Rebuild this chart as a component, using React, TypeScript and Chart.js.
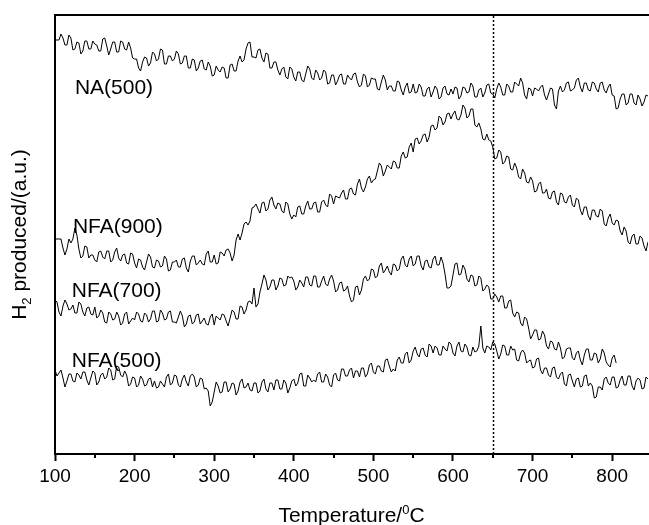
import React, { useEffect, useRef } from "react";
import { Chart, registerables } from "chart.js";

Chart.register(...registerables);

// Temperature grid (°C)
const temperatures = [
  100, 102.5, 105, 107.5, 110, 112.5, 115, 117.5, 120, 122.5, 125, 127.5, 130, 132.5, 135, 137.5, 140, 142.5, 145, 147.5,
  150, 152.5, 155, 157.5, 160, 162.5, 165, 167.5, 170, 172.5, 175, 177.5, 180, 182.5, 185, 187.5, 190, 192.5, 195, 197.5,
  200, 202.5, 205, 207.5, 210, 212.5, 215, 217.5, 220, 222.5, 225, 227.5, 230, 232.5, 235, 237.5, 240, 242.5, 245, 247.5,
  250, 252.5, 255, 257.5, 260, 262.5, 265, 267.5, 270, 272.5, 275, 277.5, 280, 282.5, 285, 287.5, 290, 292.5, 295, 297.5,
  300, 302.5, 305, 307.5, 310, 312.5, 315, 317.5, 320, 322.5, 325, 327.5, 330, 332.5, 335, 337.5, 340, 342.5, 345, 347.5,
  350, 352.5, 355, 357.5, 360, 362.5, 365, 367.5, 370, 372.5, 375, 377.5, 380, 382.5, 385, 387.5, 390, 392.5, 395, 397.5,
  400, 402.5, 405, 407.5, 410, 412.5, 415, 417.5, 420, 422.5, 425, 427.5, 430, 432.5, 435, 437.5, 440, 442.5, 445, 447.5,
  450, 452.5, 455, 457.5, 460, 462.5, 465, 467.5, 470, 472.5, 475, 477.5, 480, 482.5, 485, 487.5, 490, 492.5, 495, 497.5,
  500, 502.5, 505, 507.5, 510, 512.5, 515, 517.5, 520, 522.5, 525, 527.5, 530, 532.5, 535, 537.5, 540, 542.5, 545, 547.5,
  550, 552.5, 555, 557.5, 560, 562.5, 565, 567.5, 570, 572.5, 575, 577.5, 580, 582.5, 585, 587.5, 590, 592.5, 595, 597.5,
  600, 602.5, 605, 607.5, 610, 612.5, 615, 617.5, 620, 622.5, 625, 627.5, 630, 632.5, 635, 637.5, 640, 642.5, 645, 647.5,
  650, 652.5, 655, 657.5, 660, 662.5, 665, 667.5, 670, 672.5, 675, 677.5, 680, 682.5, 685, 687.5, 690, 692.5, 695, 697.5,
  700, 702.5, 705, 707.5, 710, 712.5, 715, 717.5, 720, 722.5, 725, 727.5, 730, 732.5, 735, 737.5, 740, 742.5, 745, 747.5,
  750, 752.5, 755, 757.5, 760, 762.5, 765, 767.5, 770, 772.5, 775, 777.5, 780, 782.5, 785, 787.5, 790, 792.5, 795, 797.5,
  800, 802.5, 805, 807.5, 810, 812.5, 815, 817.5, 820, 822.5, 825, 827.5, 830, 832.5, 835, 837.5, 840, 842.5, 845,
];

// H2 produced (a.u.), curves offset as in the figure
const naValues = [
  414, 414, 414, 420, 416, 409, 409, 419, 416, 404,
  405, 412, 411, 400, 403, 413, 413, 405, 405, 413,
  410, 409, 403, 403, 415, 416, 408, 399, 405, 412,
  412, 402, 402, 413, 412, 405, 404, 412, 406, 396,
  395, 395, 386, 383, 392, 397, 396, 388, 391, 402,
  400, 393, 395, 405, 404, 390, 390, 398, 398, 393,
  395, 403, 400, 390, 391, 398, 398, 386, 386, 395,
  394, 383, 386, 393, 394, 385, 384, 392, 388, 378,
  379, 388, 384, 382, 387, 386, 376, 376, 389, 390,
  383, 383, 393, 398, 392, 394, 405, 411, 412, 397,
  397, 396, 404, 405, 396, 392, 401, 400, 386, 386,
  392, 392, 384, 379, 385, 387, 377, 375, 387, 385,
  377, 373, 382, 382, 374, 372, 380, 388, 385, 376,
  374, 384, 381, 374, 376, 384, 382, 370, 371, 379,
  379, 369, 373, 379, 380, 370, 370, 379, 376, 374,
  380, 381, 372, 367, 369, 380, 378, 367, 369, 376,
  375, 375, 365, 364, 372, 379, 374, 364, 368, 368,
  363, 363, 373, 372, 364, 359, 367, 371, 361, 362,
  370, 361, 362, 370, 367, 358, 358, 365, 367, 357,
  362, 368, 365, 355, 357, 366, 368, 360, 359, 365,
  360, 367, 366, 355, 358, 367, 366, 361, 362, 371,
  368, 357, 357, 364, 366, 357, 361, 369, 370, 361,
  360, 356, 365, 371, 367, 359, 359, 370, 368, 362,
  362, 372, 370, 368, 376, 371, 359, 355, 366, 365,
  358, 366, 365, 363, 367, 369, 359, 354, 360, 366,
  365, 349, 345, 363, 368, 362, 364, 371, 372, 363,
  364, 366, 374, 376, 367, 362, 371, 371, 364, 363,
  372, 371, 365, 362, 371, 372, 364, 361, 367, 370,
  359, 358, 345, 346, 355, 360, 360, 349, 351, 360,
  360, 351, 349, 359, 355, 348, 352, 359, 358,
];

const nfa900Values = [
  215, 215, 215, 215, 206, 199, 205, 215, 211, 215,
  226, 219, 205, 196, 198, 208, 207, 196, 199, 199,
  194, 192, 202, 203, 197, 195, 203, 203, 192, 194,
  202, 206, 196, 193, 199, 200, 191, 190, 201, 200,
  191, 186, 195, 194, 187, 184, 192, 200, 197, 187,
  186, 194, 193, 187, 188, 198, 195, 183, 184, 192,
  192, 194, 187, 187, 195, 196, 186, 182, 193, 198,
  198, 189, 191, 194, 190, 189, 200, 203, 192, 192,
  199, 190, 191, 202, 201, 198, 204, 205, 201, 193,
  199, 214, 220, 214, 221, 230, 232, 229, 233, 246,
  247, 250, 245, 241, 251, 252, 243, 245, 254, 257,
  249, 245, 251, 250, 243, 241, 252, 250, 240, 235,
  239, 237, 247, 248, 240, 240, 248, 253, 245, 245,
  251, 252, 242, 242, 252, 254, 249, 247, 260, 258,
  250, 258, 257, 256, 261, 264, 255, 255, 265, 266,
  260, 259, 270, 275, 266, 262, 267, 275, 278, 271,
  274, 275, 283, 291, 288, 278, 283, 289, 287, 285,
  293, 292, 286, 286, 298, 302, 296, 297, 307, 311,
  302, 315, 316, 310, 313, 319, 320, 312, 317, 328,
  329, 324, 326, 338, 336, 329, 332, 340, 341, 335,
  340, 343, 335, 334, 339, 349, 346, 336, 338, 345,
  345, 329, 327, 331, 325, 315, 314, 320, 314, 313,
  307, 295, 296, 304, 302, 290, 292, 298, 297, 285,
  284, 291, 286, 277, 275, 285, 281, 272, 271, 277,
  273, 262, 263, 270, 272, 261, 261, 265, 256, 255,
  262, 263, 252, 249, 261, 260, 252, 251, 257, 259,
  249, 247, 256, 254, 244, 239, 247, 247, 238, 234,
  244, 244, 238, 237, 245, 243, 230, 228, 236, 240,
  231, 229, 234, 233, 223, 219, 227, 223, 212, 210,
  218, 220, 210, 210, 218, 216, 208, 203, 212,
];

// NFA(700) was recorded only up to ~805 °C
const nfa700Values = [
  154, 152, 142, 138, 148, 154, 150, 144, 145, 149,
  141, 141, 152, 150, 142, 138, 146, 147, 140, 139,
  147, 136, 138, 144, 141, 132, 131, 142, 140, 134,
  135, 142, 138, 129, 131, 140, 142, 130, 133, 136,
  134, 142, 140, 133, 132, 141, 139, 132, 135, 143,
  143, 132, 133, 144, 141, 134, 135, 142, 143, 132,
  132, 131, 137, 143, 138, 127, 130, 138, 139, 130,
  132, 139, 140, 130, 133, 136, 130, 129, 137, 140,
  129, 138, 136, 134, 140, 139, 133, 128, 136, 144,
  142, 135, 135, 148, 147, 140, 144, 152, 153, 150,
  166, 147, 150, 162, 170, 179, 174, 164, 167, 174,
  174, 164, 168, 176, 175, 168, 169, 178, 176, 177,
  173, 164, 167, 174, 171, 167, 177, 177, 169, 168,
  178, 178, 167, 167, 173, 178, 170, 168, 175, 179,
  173, 162, 164, 171, 172, 163, 164, 168, 158, 152,
  154, 167, 168, 159, 164, 175, 178, 173, 175, 185,
  184, 176, 178, 188, 191, 181, 184, 188, 182, 179,
  190, 189, 183, 185, 195, 198, 189, 187, 195, 198,
  188, 190, 198, 198, 188, 184, 193, 194, 187, 186,
  195, 198, 189, 189, 197, 191, 180, 166, 166, 168,
  179, 190, 191, 179, 180, 189, 185, 175, 172, 179,
  178, 168, 169, 178, 176, 163, 165, 169, 167, 155,
  155, 160, 157, 152, 158, 158, 146, 146, 153, 154,
  141, 137, 142, 141, 131, 128, 137, 135, 126, 115,
  119, 124, 124, 114, 115, 123, 119, 108, 105, 113,
  112, 105, 104, 112, 106, 95, 97, 105, 106, 106,
  96, 94, 101, 103, 94, 89, 99, 105, 105, 94,
  94, 101, 100, 91, 95, 105, 101, 92, 89, 87,
  96, 99, 91,
];

const nfa500Values = [
  84, 78, 81, 84, 76, 67, 73, 80, 80, 73,
  72, 81, 79, 75, 82, 82, 74, 69, 76, 83,
  81, 69, 72, 79, 81, 75, 77, 86, 84, 74,
  75, 88, 87, 79, 77, 83, 79, 68, 70, 77,
  76, 67, 69, 78, 75, 68, 69, 75, 76, 67,
  73, 66, 67, 73, 70, 67, 77, 80, 69, 71,
  79, 78, 69, 67, 75, 79, 72, 68, 78, 80,
  77, 67, 69, 76, 75, 65, 66, 63, 48, 52,
  62, 72, 68, 61, 62, 72, 72, 62, 65, 71,
  70, 59, 63, 72, 75, 66, 67, 71, 64, 63,
  71, 71, 61, 63, 72, 75, 65, 62, 71, 71,
  64, 74, 74, 65, 65, 74, 71, 61, 66, 73,
  75, 68, 71, 80, 81, 68, 68, 79, 76, 72,
  74, 72, 80, 82, 72, 72, 80, 77, 69, 67,
  79, 81, 74, 73, 85, 85, 78, 78, 84, 86,
  76, 83, 83, 77, 86, 86, 77, 80, 89, 91,
  82, 80, 88, 88, 83, 82, 94, 95, 88, 82,
  85, 83, 94, 97, 91, 91, 100, 102, 91, 94,
  103, 107, 100, 97, 105, 106, 99, 97, 110, 108,
  101, 108, 106, 99, 99, 108, 105, 103, 112, 110,
  101, 98, 108, 112, 103, 102, 110, 107, 99, 98,
  107, 102, 103, 108, 128, 106, 101, 108, 107, 104,
  112, 110, 103, 95, 100, 109, 108, 99, 99, 108,
  104, 105, 94, 93, 101, 104, 101, 91, 93, 94,
  86, 87, 95, 96, 84, 80, 86, 86, 79, 77,
  86, 87, 77, 75, 80, 82, 70, 68, 79, 80,
  73, 67, 75, 76, 67, 68, 78, 79, 68, 71,
  68, 56, 57, 67, 67, 64, 75, 77, 71, 69,
  77, 77, 66, 67, 74, 78, 69, 69, 78, 78,
  68, 64, 73, 76, 74, 65, 66, 77, 75,
];

const seriesNames = ["NA(500)", "NFA(900)", "NFA(700)", "NFA(500)"];
// where each series' name is written (temperature, a.u.), text baseline-left
const labelTemps = [125, 122.5, 121, 121];
const labelLevels = [360, 221, 157.5, 87.5];

const xTickValues = [100, 150, 200, 250, 300, 350, 400, 450, 500, 550, 600, 650, 700, 750, 800];
const xMin = 100;
const xMax = 845;
const yMin = 0;
const yMax = 439;
const markerTemperature = 650;

const FONT = '"Liberation Sans", Arial, Helvetica, sans-serif';

function toPoints(values: number[]) {
  return values.map((v, i) => ({ x: temperatures[i], y: v }));
}

const decorPlugin = {
  id: "decor",
  afterDraw(chart: any) {
    const { ctx, chartArea, scales } = chart;
    const xs = scales.x;
    const ys = scales.y;
    ctx.save();

    // top frame line
    ctx.strokeStyle = "#000";
    ctx.lineWidth = 2;
    ctx.beginPath();
    ctx.moveTo(chartArea.left - 1, chartArea.top);
    ctx.lineTo(chartArea.right + 1, chartArea.top);
    ctx.stroke();

    // minor ticks
    xTickValues.forEach((v) => {
      if (v % 100 !== 0) {
        const px = Math.round(xs.getPixelForValue(v));
        ctx.beginPath();
        ctx.moveTo(px, chartArea.bottom);
        ctx.lineTo(px, chartArea.bottom + 4);
        ctx.stroke();
      }
    });

    // dotted marker line
    const mx = Math.round(xs.getPixelForValue(markerTemperature)) + 0.5;
    ctx.lineWidth = 1.5;
    ctx.setLineDash([2, 2]);
    ctx.beginPath();
    ctx.moveTo(mx, chartArea.top + 1);
    ctx.lineTo(mx, chartArea.bottom - 1);
    ctx.stroke();
    ctx.setLineDash([]);

    // series names
    ctx.fillStyle = "#000";
    ctx.font = `21px ${FONT}`;
    ctx.textAlign = "left";
    ctx.textBaseline = "alphabetic";
    seriesNames.forEach((name, i) => {
      ctx.fillText(name, xs.getPixelForValue(labelTemps[i]), ys.getPixelForValue(labelLevels[i]));
    });

    // x title with superscript
    const big = `21px ${FONT}`;
    const small = `13px ${FONT}`;
    ctx.font = big;
    const w1 = ctx.measureText("Temperature/").width;
    const w3 = ctx.measureText("C").width;
    ctx.font = small;
    const w2 = ctx.measureText("0").width;
    const total = w1 + w2 + w3;
    const cx = (chartArea.left + chartArea.right) / 2;
    const x0 = cx - total / 2;
    const by = 521.5;
    ctx.font = big;
    ctx.fillText("Temperature/", x0, by);
    ctx.font = small;
    ctx.fillText("0", x0 + w1, by - 8);
    ctx.font = big;
    ctx.fillText("C", x0 + w1 + w2, by);

    // y title with subscript (rotated)
    ctx.translate(26, (chartArea.top + chartArea.bottom) / 2);
    ctx.rotate(-Math.PI / 2);
    ctx.font = big;
    const a1 = ctx.measureText("H").width;
    const a3 = ctx.measureText(" produced/(a.u.)").width;
    ctx.font = small;
    const a2 = ctx.measureText("2").width;
    const s = -(a1 + a2 + a3) / 2;
    ctx.font = big;
    ctx.fillText("H", s, 0);
    ctx.font = small;
    ctx.fillText("2", s + a1, 5);
    ctx.font = big;
    ctx.fillText(" produced/(a.u.)", s + a1 + a2, 0);

    ctx.restore();
  },
};

export default function App() {
  const canvasRef = useRef<HTMLCanvasElement | null>(null);

  useEffect(() => {
    document.body.style.margin = "0";
    const canvas = canvasRef.current;
    if (!canvas) return;
    const lineStyle = {
      borderColor: "#000",
      borderWidth: 1,
      pointRadius: 0,
      tension: 0,
      fill: false,
    };
    const chart = new Chart(canvas, {
      type: "line",
      data: {
        datasets: [
          { label: seriesNames[0], data: toPoints(naValues), ...lineStyle },
          { label: seriesNames[1], data: toPoints(nfa900Values), ...lineStyle },
          { label: seriesNames[2], data: toPoints(nfa700Values), ...lineStyle },
          { label: seriesNames[3], data: toPoints(nfa500Values), ...lineStyle },
        ],
      },
      options: {
        responsive: false,
        animation: false,
        devicePixelRatio: 1,
        layout: { padding: { top: 15, right: 1, left: 0, bottom: 0 } },
        plugins: {
          legend: { display: false },
          tooltip: { enabled: false },
        },
        scales: {
          x: {
            type: "linear",
            min: xMin,
            max: xMax,
            afterBuildTicks: (scale: any) => {
              scale.ticks = xTickValues.map((v) => ({ value: v }));
            },
            afterFit: (scale: any) => {
              scale.height = 71;
            },
            ticks: {
              autoSkip: false,
              maxRotation: 0,
              padding: 4,
              color: "#000",
              font: { family: FONT, size: 19 },
              callback: (v: any) => (Number(v) % 100 === 0 ? String(v) : ""),
            },
            grid: {
              drawOnChartArea: false,
              drawTicks: true,
              tickLength: 7,
              tickWidth: 2,
              tickColor: (c: any) =>
                c.tick && c.tick.value % 100 === 0 ? "#000" : "rgba(0,0,0,0)",
            },
            border: { display: true, color: "#000", width: 2 },
          },
          y: {
            type: "linear",
            min: yMin,
            max: yMax,
            afterFit: (scale: any) => {
              scale.width = 55;
            },
            ticks: { display: false },
            grid: { display: false, drawTicks: false },
            border: { display: true, color: "#000", width: 2 },
          },
        },
      },
      plugins: [decorPlugin],
    } as any);
    return () => chart.destroy();
  }, []);

  return (
    <canvas
      ref={canvasRef}
      width={649}
      height={525}
      style={{ display: "block", width: "649px", height: "525px" }}
    />
  );
}
